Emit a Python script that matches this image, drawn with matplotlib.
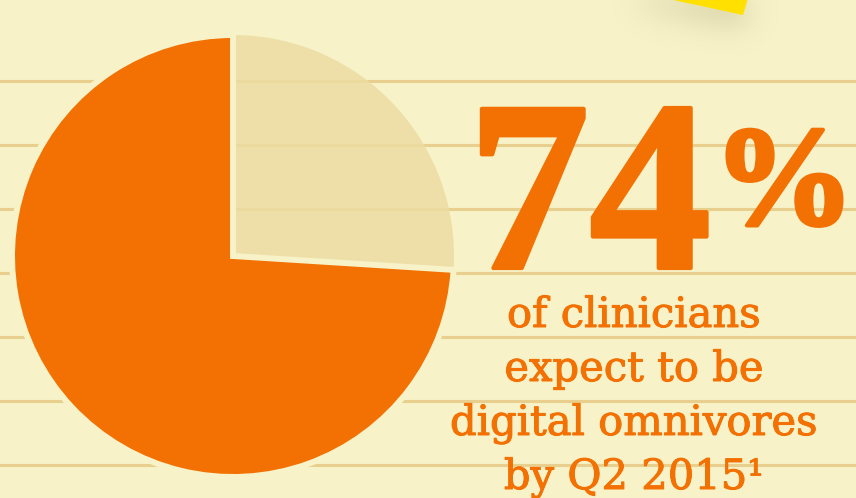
import numpy as np
import matplotlib.pyplot as plt
import matplotlib.patheffects as pe
from matplotlib.patches import Polygon
from matplotlib.path import Path

# --- datos ---
shares = [26, 74]                 # otros, omnívoros digitales
share_colors = ['#ECDCA2', '#F37002']
big_number = '74'
big_sign = '%'
caption = ['of clinicians', 'expect to be', 'digital omnivores', 'by Q2 2015\u00b9']

# --- estilo ---
W, H = 856, 498
bg = '#F7F2C7'
line_col = '#E9CF8E'
orange = '#F37002'

def Y(y): return H - y   # pixel (desde arriba) -> datos

fig = plt.figure(figsize=(W / 100, H / 100), dpi=100)
fig.patch.set_facecolor(bg)
ax = fig.add_axes([0, 0, 1, 1])
ax.set_xlim(0, W)
ax.set_ylim(0, H)
ax.set_aspect('equal')
ax.axis('off')

# lineas de cuaderno
for yl in [81, 145, 209, 273, 337, 401, 465]:
    ax.axhline(Y(yl), color=line_col, lw=2.2, zorder=1)

# sombra de la nota adhesiva (difuminada)
xx, yy = np.meshgrid(np.arange(W), np.arange(H))
shadow_poly = np.array([[600, -60], [752, -60], [744, 24], [640, 6]])
mask = Path(shadow_poly).contains_points(np.c_[xx.ravel(), yy.ravel()]).reshape(H, W).astype(float)
k = np.exp(-0.5 * (np.arange(-50, 51) / 15.0) ** 2)
k /= k.sum()
blur = np.apply_along_axis(lambda r: np.convolve(r, k, mode='same'), 1, mask)
blur = np.apply_along_axis(lambda c: np.convolve(c, k, mode='same'), 0, blur)
rgba = np.zeros((H, W, 4))
rgba[..., :3] = np.array([160, 155, 110]) / 255
rgba[..., 3] = 0.48 * blur
ax.imshow(rgba, extent=[0, W, 0, H], origin='upper', zorder=1.5, interpolation='bilinear')

# nota adhesiva
note = Polygon([[664, Y(-2)], [748, Y(-2)], [743, Y(15)]], closed=True,
               facecolor='#FFE000', edgecolor='none', zorder=1.6)
ax.add_patch(note)

# --- pastel ---
wedges, _ = ax.pie(shares, colors=share_colors, startangle=90, counterclock=False,
                   center=(233, Y(256)), radius=221, frame=True,
                   wedgeprops=dict(edgecolor=bg, linewidth=4.3))
wedges[0].set_alpha(0.85)
wedges[0].set_edgecolor('none')
wedges[0].set_zorder(2)
wedges[1].set_zorder(3)
ax.set_xlim(0, W)
ax.set_ylim(0, H)
ax.axis('off')

# --- textos ---
fat = [pe.withStroke(linewidth=3, foreground=orange)]
ax.text(468, Y(268), big_number, fontsize=175, family='Liberation Serif',
        fontweight='bold', color=orange, ha='left', va='baseline', zorder=4,
        path_effects=fat)
ax.text(713, Y(224), big_sign, fontsize=102, family='Liberation Serif',
        fontweight='bold', color=orange, ha='left', va='baseline', zorder=4,
        path_effects=fat)

thick = [pe.withStroke(linewidth=0.7, foreground=orange)]
for i, line in enumerate(caption):
    ax.text(634, Y(327 + 54 * i), line, fontsize=30, family='DejaVu Serif',
            color=orange, ha='center', va='baseline', zorder=4, path_effects=thick)

plt.savefig('out.png', dpi=100, facecolor=bg)
